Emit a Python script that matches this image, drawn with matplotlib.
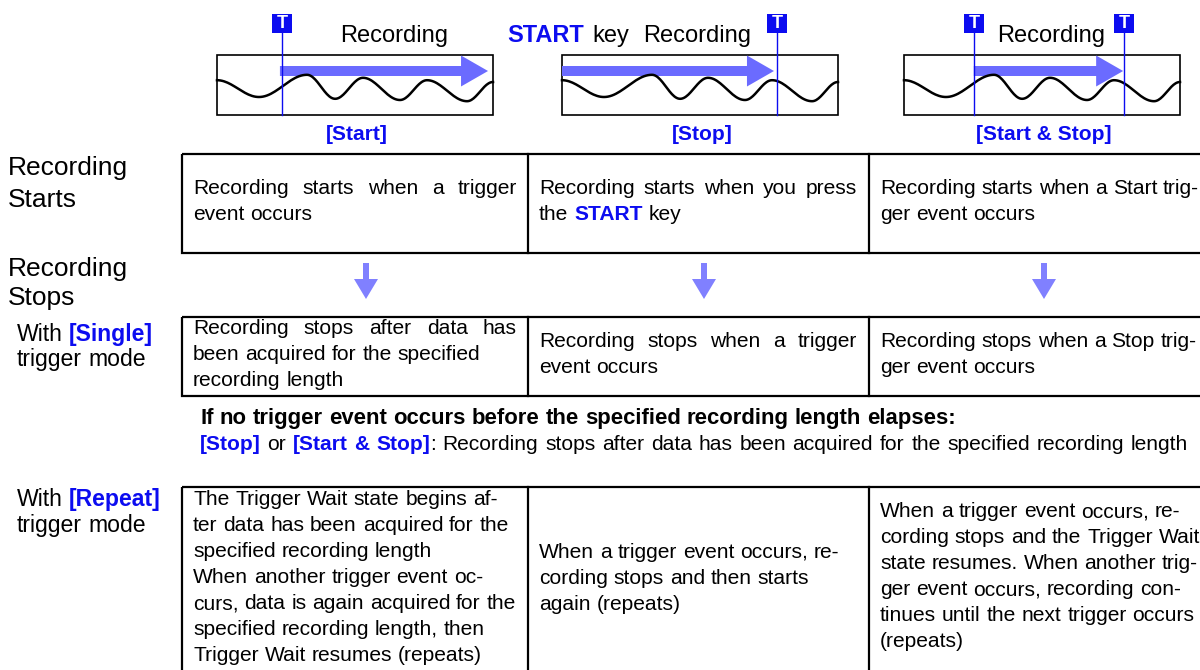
import matplotlib
matplotlib.use("Agg")
import numpy as np
import matplotlib.pyplot as plt
from matplotlib.patches import Rectangle, FancyArrow

plt.rcParams["font.family"] = ["Liberation Sans", "DejaVu Sans"]

BLUE = "#0C0CF0"
ARROW_BLUE = "#6B6BFF"
DOWN_BLUE = "#8080FF"
BODY = 15.1
HEAD = 17.0

# ---- content ----
panel_labels = ["[Start]", "[Stop]", "[Start & Stop]"]
# trigger marks and recording arrow, as fractions of the panel width
panel_triggers = [[0.236], [0.779], [0.253, 0.798]]
panel_arrows = [(0.228, 0.982), (0.0, 0.768), (0.253, 0.794)]

# waveform turning points (fraction of panel width, fraction of panel height)
wave_x = [0.0, 0.152, 0.326, 0.428, 0.529, 0.663, 0.761, 0.906, 1.0]
wave_y = [0.42, 0.70, 0.33, 0.73, 0.38, 0.75, 0.42, 0.77, 0.45]

start_cells = [
    [[("Recording starts when a trigger", "n")], [("event occurs", "n")]],
    [[("Recording starts when you press", "n")],
     [("the ", "n"), ("START", "B"), (" key", "n")]],
    [[("Recording starts when a Start trig-", "n")], [("ger event occurs", "n")]],
]
single_cells = [
    [[("Recording stops after data has", "n")],
     [("been acquired for the specified", "n")],
     [("recording length", "n")]],
    [[("Recording stops when a trigger", "n")], [("event occurs", "n")]],
    [[("Recording stops when a Stop trig-", "n")], [("ger event occurs", "n")]],
]
repeat_cells = [
    ["The Trigger Wait state begins af-",
     "ter data has been acquired for the",
     "specified recording length",
     "When another trigger event oc-",
     "curs, data is again acquired for the",
     "specified recording length, then",
     "Trigger Wait resumes (repeats)"],
    ["When a trigger event occurs, re-",
     "cording stops and then starts",
     "again (repeats)"],
    ["When a trigger event occurs, re-",
     "cording stops and the Trigger Wait",
     "state resumes. When another trig-",
     "ger event occurs, recording con-",
     "tinues until the next trigger occurs",
     "(repeats)"],
]
note_bold = "If no trigger event occurs before the specified recording length elapses:"
note_runs = [("[Stop]", "B"), (" or ", "n"), ("[Start & Stop]", "B"),
             (": Recording stops after data has been acquired for the specified recording length", "n")]

# ---- figure ----
fig = plt.figure(figsize=(12, 6.7), dpi=100)
ax = fig.add_axes([0, 0, 1, 1])
ax.set_xlim(0, 1200)
ax.set_ylim(670, 0)
ax.axis("off")
renderer = fig.canvas.get_renderer()

STYLES = {"n": dict(color="black", fontweight="normal"),
          "b": dict(color="black", fontweight="bold"),
          "B": dict(color=BLUE, fontweight="bold")}


def text_width(s, size, style):
    t = ax.text(0, 0, s, fontsize=size, **STYLES[style])
    w = t.get_window_extent(renderer).width
    t.remove()
    return w


def tokens_of(runs):
    toks, gap = [], False
    for text, style in runs:
        for i, p in enumerate(text.split(" ")):
            if i > 0:
                gap = True
            if p == "":
                continue
            toks.append((p, style, gap and bool(toks)))
            gap = False
    return toks


def draw_line(x, y, runs, size=BODY, right=None):
    toks = tokens_of(runs)
    widths = [text_width(w, size, s) for w, s, _ in toks]
    space = text_width("x x", size, "n") - text_width("xx", size, "n")
    ngaps = sum(1 for t in toks if t[2])
    if right is not None and ngaps:
        natural = sum(widths) + ngaps * space
        space += (right - x - natural) / ngaps
    cx = x
    for (w, s, g), wd in zip(toks, widths):
        if g:
            cx += space
        ax.text(cx, y, w, fontsize=size, ha="left", va="baseline", **STYLES[s])
        cx += wd


# ---- top waveform panels ----
panel_left = [217, 562, 904]
PW, PT, PH = 276, 55, 60
for k, x0 in enumerate(panel_left):
    ax.add_patch(Rectangle((x0, PT), PW, PH, fill=False, ec="black", lw=1.2))
    xs, ys = [], []
    for i in range(len(wave_x) - 1):
        t = np.linspace(0, 1, 25)
        xs.extend(wave_x[i] + (wave_x[i + 1] - wave_x[i]) * t)
        ys.extend(wave_y[i] + (wave_y[i + 1] - wave_y[i]) * (1 - np.cos(np.pi * t)) / 2)
    ax.plot(x0 + PW * np.array(xs), PT + PH * np.array(ys), color="black", lw=1.8)
    a0, a1 = panel_arrows[k]
    ax.add_patch(FancyArrow(x0 + PW * a0, 71, PW * (a1 - a0), 0, width=10,
                            head_width=31, head_length=27, length_includes_head=True,
                            color=ARROW_BLUE, lw=0))
    for f in panel_triggers[k]:
        tx = x0 + PW * f
        ax.plot([tx, tx], [33, PT + PH], color=BLUE, lw=1.0)
        ax.add_patch(Rectangle((tx - 10, 14), 20, 19, color=BLUE, lw=0))
        ax.text(tx, 24, "T", color="white", fontsize=13, fontweight="bold",
                ha="center", va="center")
    ax.text(x0 + PW / 2 + 2, 140, panel_labels[k], fontsize=BODY, ha="center",
            va="baseline", **STYLES["B"])

ax.text(340, 42, "Recording", fontsize=HEAD, ha="left", va="baseline")
ax.text(507, 42, "START", fontsize=HEAD, ha="left", va="baseline", **STYLES["B"])
ax.text(592, 42, "key", fontsize=HEAD, ha="left", va="baseline")
ax.text(643, 42, "Recording", fontsize=HEAD, ha="left", va="baseline")
ax.text(997, 42, "Recording", fontsize=HEAD, ha="left", va="baseline")

# ---- row titles ----
ax.text(8, 175, "Recording", fontsize=19, va="baseline")
ax.text(8, 207, "Starts", fontsize=19, va="baseline")
ax.text(8, 276, "Recording", fontsize=19, va="baseline")
ax.text(8, 305, "Stops", fontsize=19, va="baseline")
draw_line(17, 341, [("With ", "n"), ("[Single]", "B")], size=16.6)
draw_line(17, 366, [("trigger mode", "n")], size=16.6)
draw_line(17, 506, [("With ", "n"), ("[Repeat]", "B")], size=16.6)
draw_line(17, 532, [("trigger mode", "n")], size=16.6)

# ---- tables ----
col_div = [528, 869]
text_x = [193, 539, 880]
just_right = [517, 857, None]
LS = 26.0


def draw_table(top, bottom, cells, first_base, justified):
    ax.add_patch(Rectangle((182, top), 1210 - 182, bottom - top, fill=False,
                           ec="black", lw=1.6))
    for xd in col_div:
        ax.plot([xd, xd], [top, bottom], color="black", lw=1.6)
    for c, lines in enumerate(cells):
        for i, runs in enumerate(lines):
            if isinstance(runs, str):
                runs = [(runs, "n")]
            r = just_right[c] if (c, i) in justified else None
            draw_line(text_x[c], first_base[c] + i * LS, runs, right=r)


draw_table(154, 253, start_cells, [194, 194, 194], {(0, 0), (1, 0)})
draw_table(317, 396, single_cells, [334, 347, 347], {(0, 0), (1, 0)})
draw_table(487, 672, repeat_cells, [505, 558, 517], set())

# down arrows between rows
for xa in [366, 704, 1044]:
    ax.add_patch(FancyArrow(xa, 263, 0, 36, width=6, head_width=24, head_length=20,
                            length_includes_head=True, color=DOWN_BLUE, lw=0))

# ---- note ----
draw_line(200, 424, [(note_bold, "b")], size=15.9)
draw_line(200, 450, note_runs, right=1188)

fig.savefig("out.png", dpi=100)
